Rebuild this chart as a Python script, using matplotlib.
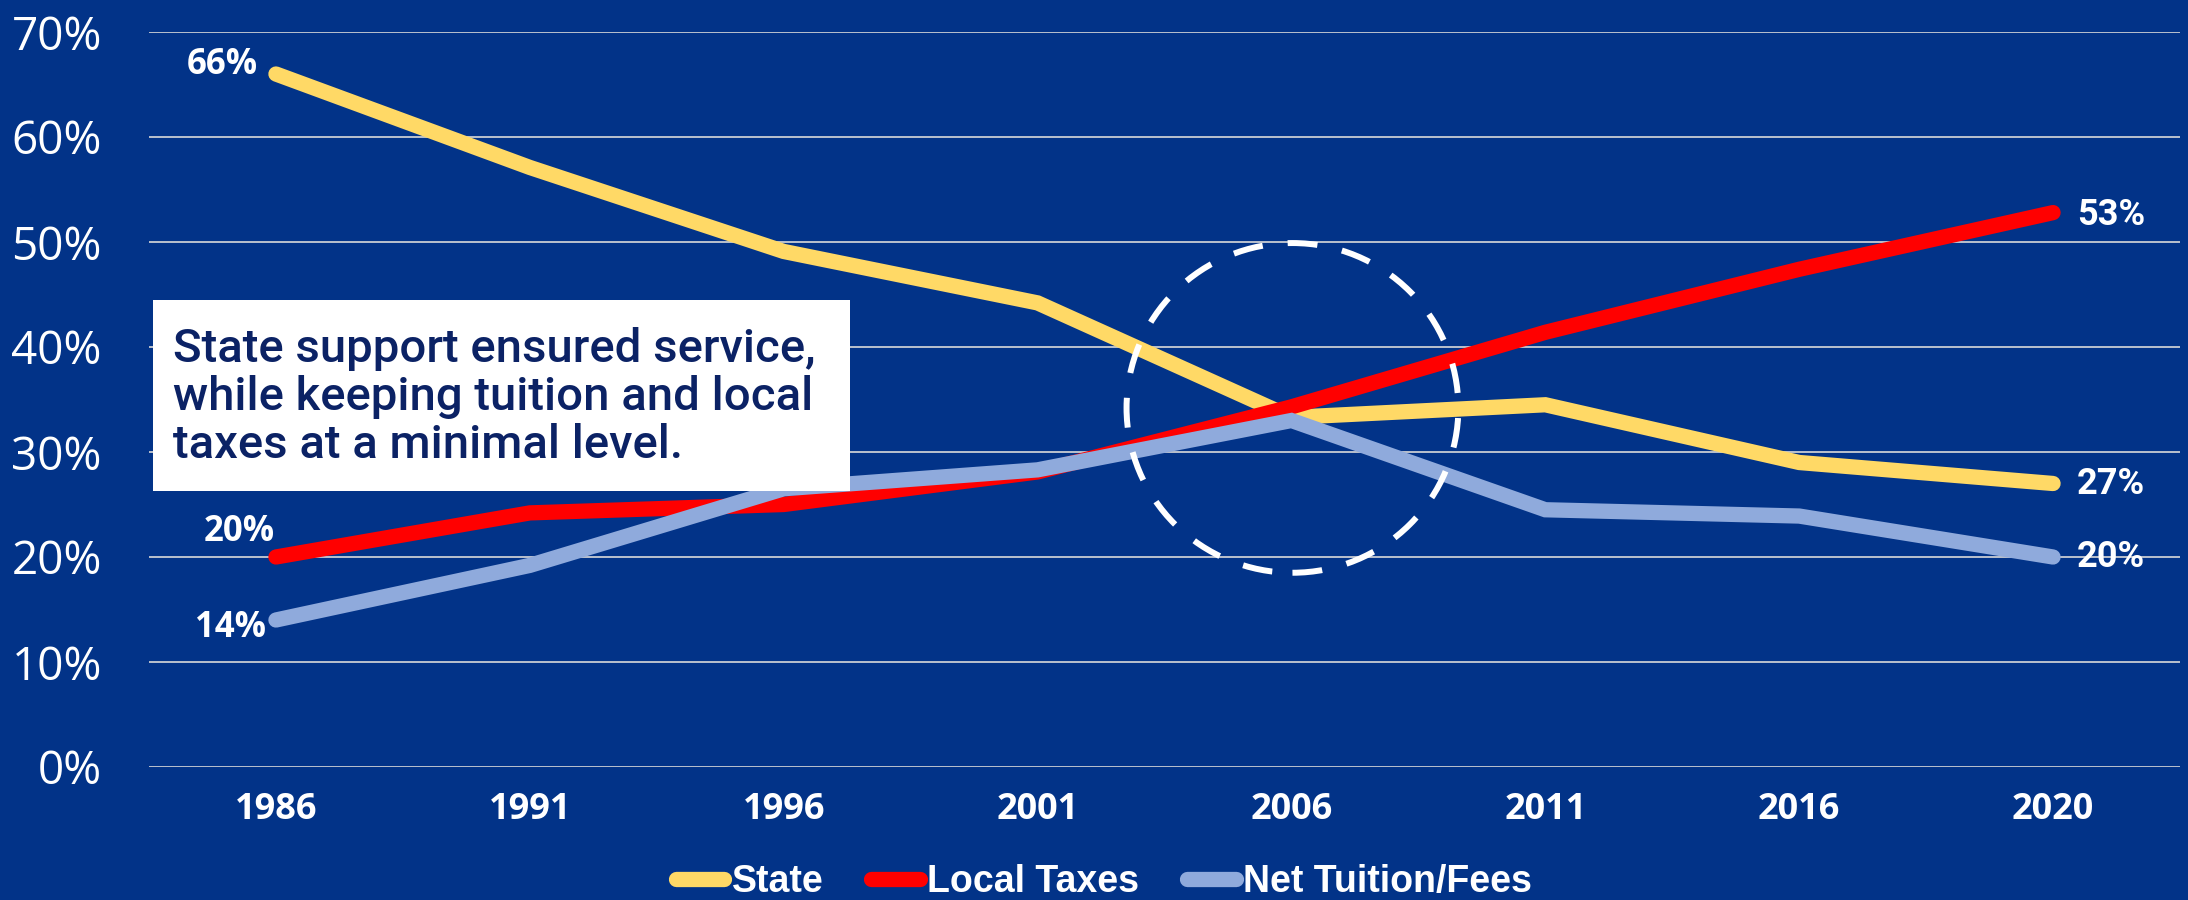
import matplotlib
matplotlib.use('Agg')
import matplotlib.pyplot as plt
from matplotlib.patches import Ellipse, Rectangle
from matplotlib.lines import Line2D

# ---- data ----
years = ['1986', '1991', '1996', '2001', '2006', '2011', '2016', '2020']
state = [66.0, 57.1, 49.1, 44.2, 33.3, 34.5, 29.0, 27.0]
local_taxes = [20.0, 24.2, 25.0, 28.1, 34.3, 41.4, 47.4, 52.8]
tuition = [14.0, 19.2, 26.5, 28.3, 33.0, 24.5, 23.9, 20.0]
series_names = ['State', 'Local Taxes', 'Net Tuition/Fees']
y_ticks = [0, 10, 20, 30, 40, 50, 60, 70]
y_tick_labels = ['0%', '10%', '20%', '30%', '40%', '50%', '60%', '70%']
note = "State support ensured service,\nwhile keeping tuition and local\ntaxes at a minimal level."

# ---- style ----
BG = '#023388'
YELLOW = '#FFD966'
RED = '#FF0000'
BLUE = '#8FAADC'
GRID = '#D9D9D9'
NOTE_COLOR = '#0B2265'
LW = 11

fig = plt.figure(figsize=(21.88, 9.0), dpi=100, facecolor=BG)
ax = fig.add_axes([149 / 2188, 1 - 767 / 900, (2180 - 149) / 2188, (767 - 32) / 900])
ax.set_facecolor(BG)

x = list(range(len(years)))
series = [state, local_taxes, tuition]
colors = [YELLOW, RED, BLUE]
for vals, c, name in zip(series, colors, series_names):
    ax.plot(x, vals, color=c, lw=LW, solid_capstyle='round', solid_joinstyle='miter',
            label=name, zorder=3)

ax.set_xlim(-0.5, len(years) - 0.5)
ax.set_ylim(0, 70)
ax.set_yticks(y_ticks)
ax.set_yticklabels(y_tick_labels)
ax.set_xticks(x)
ax.set_xticklabels(years)
ax.grid(axis='y', color=GRID, lw=1.2, zorder=1)
ax.grid(axis='x', visible=False)
for s in ax.spines.values():
    s.set_visible(False)
ax.tick_params(axis='both', length=0)
ax.tick_params(axis='y', pad=34, labelcolor='white')
ax.tick_params(axis='x', pad=18, labelcolor='white')
for lab in ax.get_yticklabels():
    lab.set_fontfamily(['Open Sans', 'DejaVu Sans'])
    lab.set_fontsize(33)
for lab in ax.get_xticklabels():
    lab.set_fontfamily(['Open Sans', 'DejaVu Sans'])
    lab.set_fontweight('bold')
    lab.set_fontsize(26)

# ---- data labels ----
first_offsets = [(-18, 9, 'right'), (-37, 25, 'center'), (-10, -8, 'right')]
for vals, (dx, dy, ha) in zip(series, first_offsets):
    ax.annotate(f"{round(vals[0])}%", (x[0], vals[0]), xytext=(dx, dy),
                textcoords='offset pixels', ha=ha, va='center', color='white',
                fontsize=25, fontweight='bold', family=['Open Sans', 'DejaVu Sans'],
                zorder=5)
last_offsets = [(24, 0), (24, -2), (24, 0)]
for vals, (dx, dy) in zip(series, last_offsets):
    ax.annotate(f"{round(vals[-1])}%", (x[-1], vals[-1]), xytext=(dx, dy),
                textcoords='offset pixels', ha='left', va='center', color='white',
                fontsize=26, fontweight='bold', family=['Roboto', 'DejaVu Sans'],
                zorder=5)

# ---- dashed circle ----
circ = Ellipse((4.004, 34.2), width=1.307, height=31.4, fill=False, edgecolor='white',
               lw=4.3, linestyle=(0, (5, 4.2)), zorder=4)
ax.add_patch(circ)

# ---- note box ----
fig.add_artist(Rectangle((153 / 2188, 1 - 491 / 900), 697 / 2188, 191 / 900,
                         transform=fig.transFigure, facecolor='white',
                         edgecolor='none', zorder=6))
fig.text(173 / 2188, 1 - 397 / 900, note, ha='left', va='center', color=NOTE_COLOR,
         fontsize=34, fontweight='medium', family=['Roboto', 'DejaVu Sans'],
         linespacing=1.12, zorder=7)

# ---- legend ----
handles = [Line2D([0], [0], color=c, lw=LW, solid_capstyle='round') for c in colors]
leg = fig.legend(handles, series_names, loc='center', bbox_to_anchor=(0.5045, 0.02),
                 ncol=3, frameon=False, handlelength=1.3, handletextpad=0.2,
                 columnspacing=1.27,
                 prop={'family': ['Liberation Sans Narrow', 'Liberation Sans', 'DejaVu Sans'],
                       'weight': 'bold', 'size': 27})
for t in leg.get_texts():
    t.set_color('white')

fig.savefig('out.png', dpi=100, facecolor=BG)
